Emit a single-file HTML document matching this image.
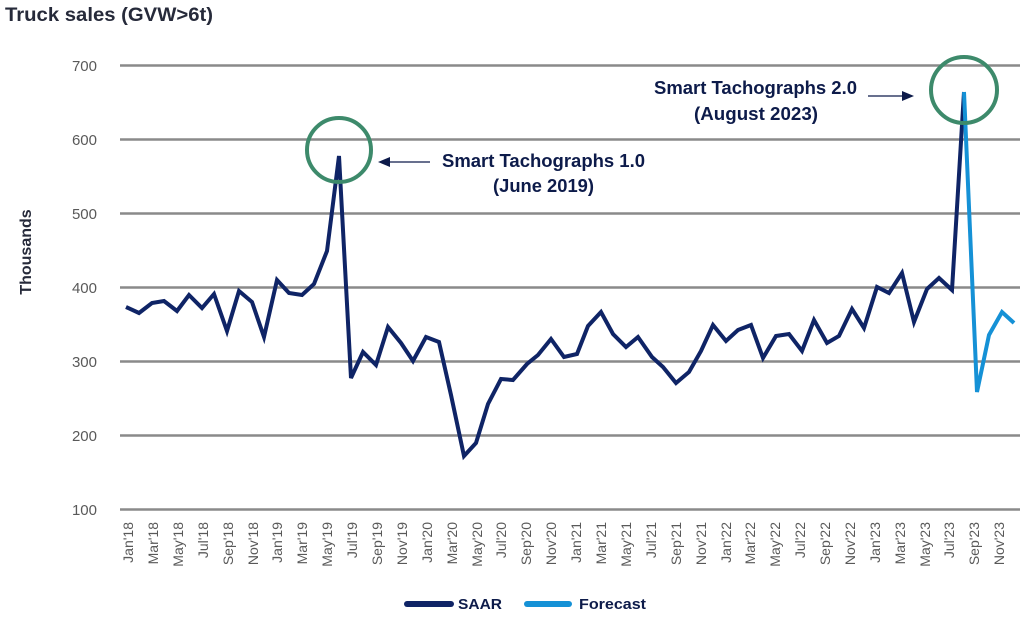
<!DOCTYPE html>
<html><head><meta charset="utf-8"><style>
html,body{margin:0;padding:0;background:#fff;}
svg{display:block;font-family:"Liberation Sans",sans-serif;}
</style></head><body>
<svg width="1024" height="620" viewBox="0 0 1024 620" xmlns="http://www.w3.org/2000/svg">
<text x="5" y="21" font-size="19" font-weight="bold" fill="#262a3a" textLength="208" lengthAdjust="spacingAndGlyphs">Truck sales (GVW&gt;6t)</text>
<g stroke="#8a8a8a" stroke-width="2.5">
<line x1="120" y1="65.5" x2="1020" y2="65.5"/>
<line x1="120" y1="139.5" x2="1020" y2="139.5"/>
<line x1="120" y1="213.5" x2="1020" y2="213.5"/>
<line x1="120" y1="287.5" x2="1020" y2="287.5"/>
<line x1="120" y1="361.5" x2="1020" y2="361.5"/>
<line x1="120" y1="435.5" x2="1020" y2="435.5"/>
<line x1="120" y1="509.5" x2="1020" y2="509.5"/>
</g>
<g font-size="15" fill="#595959" text-anchor="end">
<text x="97" y="71">700</text><text x="97" y="145">600</text><text x="97" y="219">500</text>
<text x="97" y="293">400</text><text x="97" y="367">300</text><text x="97" y="441">200</text><text x="97" y="515">100</text>
</g>
<text transform="translate(31,252) rotate(-90)" font-size="16" font-weight="bold" fill="#262a3a" text-anchor="middle">Thousands</text>
<g font-size="14" fill="#595959" text-anchor="end">
<text transform="translate(133,522) rotate(-90)">Jan'18</text>
<text transform="translate(158,522) rotate(-90)">Mar'18</text>
<text transform="translate(183,522) rotate(-90)">May'18</text>
<text transform="translate(208,522) rotate(-90)">Jul'18</text>
<text transform="translate(233,522) rotate(-90)">Sep'18</text>
<text transform="translate(258,522) rotate(-90)">Nov'18</text>
<text transform="translate(282,522) rotate(-90)">Jan'19</text>
<text transform="translate(307,522) rotate(-90)">Mar'19</text>
<text transform="translate(332,522) rotate(-90)">May'19</text>
<text transform="translate(357,522) rotate(-90)">Jul'19</text>
<text transform="translate(382,522) rotate(-90)">Sep'19</text>
<text transform="translate(407,522) rotate(-90)">Nov'19</text>
<text transform="translate(432,522) rotate(-90)">Jan'20</text>
<text transform="translate(457,522) rotate(-90)">Mar'20</text>
<text transform="translate(482,522) rotate(-90)">May'20</text>
<text transform="translate(506,522) rotate(-90)">Jul'20</text>
<text transform="translate(531,522) rotate(-90)">Sep'20</text>
<text transform="translate(556,522) rotate(-90)">Nov'20</text>
<text transform="translate(581,522) rotate(-90)">Jan'21</text>
<text transform="translate(606,522) rotate(-90)">Mar'21</text>
<text transform="translate(631,522) rotate(-90)">May'21</text>
<text transform="translate(656,522) rotate(-90)">Jul'21</text>
<text transform="translate(681,522) rotate(-90)">Sep'21</text>
<text transform="translate(706,522) rotate(-90)">Nov'21</text>
<text transform="translate(731,522) rotate(-90)">Jan'22</text>
<text transform="translate(755,522) rotate(-90)">Mar'22</text>
<text transform="translate(780,522) rotate(-90)">May'22</text>
<text transform="translate(805,522) rotate(-90)">Jul'22</text>
<text transform="translate(830,522) rotate(-90)">Sep'22</text>
<text transform="translate(855,522) rotate(-90)">Nov'22</text>
<text transform="translate(880,522) rotate(-90)">Jan'23</text>
<text transform="translate(905,522) rotate(-90)">Mar'23</text>
<text transform="translate(930,522) rotate(-90)">May'23</text>
<text transform="translate(954,522) rotate(-90)">Jul'23</text>
<text transform="translate(979,522) rotate(-90)">Sep'23</text>
<text transform="translate(1004,522) rotate(-90)">Nov'23</text>
</g>
<polyline fill="none" stroke="#0f2466" stroke-width="4" stroke-linejoin="miter" points="126,307 139,313 152,303 164,301 177,311 189,295 202,308 214,294 227,331 239,291 252,302 264,337 277,280 289,293 302,295 314,284 327,251 339,156 351,378 363,352 376,365 388,327 401,343 413,361 426,337 439,342 451,395 464,456 476,443 488,404 501,379 513,380 527,364 538,355 551,339 564,357 577,354 588,326 601,312 613,334 626,347 638,337 652,357 663,367 676,383 689,372 701,351 713,325 726,341 738,330 751,325 763,358 776,336 789,334 802,351 814,320 827,343 839,336 852,309 864,328 877,287 889,293 902,273 914,322 927,289 939,278 952,290 964,92"/>
<polyline fill="none" stroke="#1591d6" stroke-width="4" points="964,92 977,392 989,335 1002,312 1014,323"/>
<circle cx="339" cy="150" r="32" fill="none" stroke="#3d8a6b" stroke-width="4"/>
<circle cx="964" cy="90" r="33" fill="none" stroke="#3d8a6b" stroke-width="4"/>
<line x1="430" y1="162" x2="388" y2="162" stroke="#0d1b4a" stroke-width="1.2"/>
<polygon points="378,162 390,157 390,167" fill="#0d1b4a"/>
<line x1="868" y1="96" x2="904" y2="96" stroke="#0d1b4a" stroke-width="1.2"/>
<polygon points="914,96 902,91 902,101" fill="#0d1b4a"/>
<g font-size="18" font-weight="bold" fill="#0d1b4a">
<text x="442" y="167" textLength="203" lengthAdjust="spacingAndGlyphs">Smart Tachographs 1.0</text>
<text x="493" y="192" textLength="101" lengthAdjust="spacingAndGlyphs">(June 2019)</text>
<text x="654" y="94" textLength="203" lengthAdjust="spacingAndGlyphs">Smart Tachographs 2.0</text>
<text x="694" y="120" textLength="124" lengthAdjust="spacingAndGlyphs">(August 2023)</text>
</g>
<line x1="407" y1="604" x2="451" y2="604" stroke="#0f2466" stroke-width="6" stroke-linecap="round"/>
<text x="458" y="609" font-size="15" font-weight="bold" fill="#0d1b4a" textLength="44" lengthAdjust="spacingAndGlyphs">SAAR</text>
<line x1="527" y1="604" x2="569" y2="604" stroke="#1591d6" stroke-width="6" stroke-linecap="round"/>
<text x="579" y="609" font-size="15" font-weight="bold" fill="#0d1b4a" textLength="67" lengthAdjust="spacingAndGlyphs">Forecast</text>
</svg>
</body></html>
